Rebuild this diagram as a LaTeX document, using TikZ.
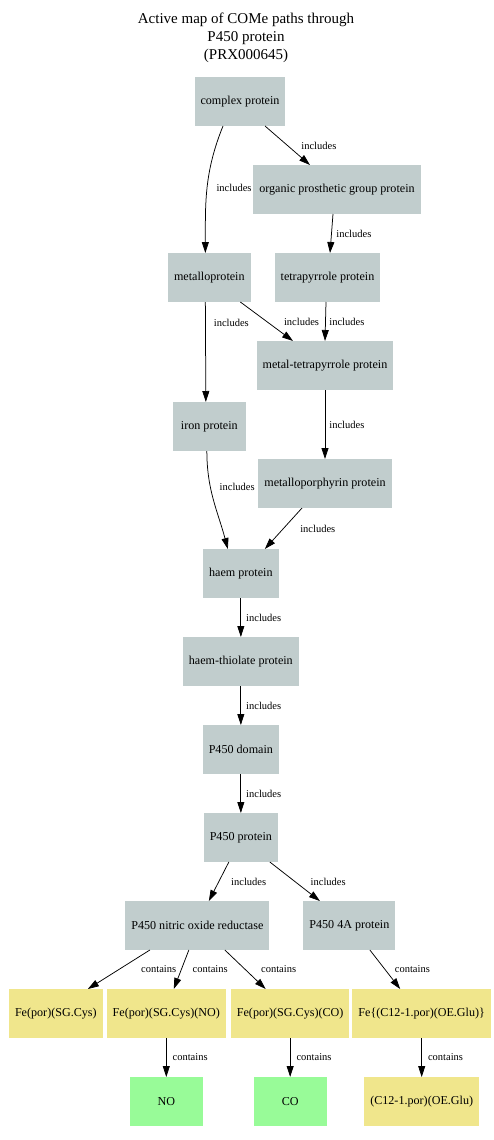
\documentclass[tikz,border=0pt]{standalone}
\usepackage{fontspec}
\setmainfont{Liberation Serif}
\usetikzlibrary{arrows.meta,positioning}
\definecolor{protgrey}{HTML}{C1CDCD}
\definecolor{khaki}{HTML}{F0E68C}
\definecolor{palegreen}{HTML}{98FB98}

\begin{document}
\begin{tikzpicture}[
  >={Triangle[length=11pt,width=7pt]},
  box/.style={fill=protgrey, align=center, minimum width=73pt, minimum height=49pt, inner xsep=6pt, outer sep=0pt, font=\fontsize{12.1}{14}\selectfont},
  cpd/.style={box, fill=khaki},
  gas/.style={box, fill=palegreen},
  lbl/.style={font=\fontsize{10.5}{12}\selectfont, inner sep=0pt, anchor=west, midway},
  line width=0.75pt]

\useasboundingbox (0,0) rectangle (494pt,-1140pt);

\node[align=center, font=\fontsize{15}{18}\selectfont] (title) at (246pt,-37.5pt) {Active map of COMe paths through\\P450 protein\\(PRX000645)};

\node[box] (complexP) at (240pt,-101.5pt) {complex protein};
\node[box, below=39pt of complexP, xshift=97pt] (organicP) {organic prosthetic group protein};
\node[box, below=39pt of organicP, xshift=-9.5pt] (tetraP) {tetrapyrrole protein};
\node[box, left=24pt of tetraP] (metalloP) {metalloprotein};
\node[box, below=39pt of tetraP, xshift=-2.5pt] (metalTP) {metal-tetrapyrrole protein};
\node[box, below=100pt of metalloP] (ironP) {iron protein};
\node[box, below=69pt of metalTP] (porphP) {metalloporphyrin protein};
\node[box, below=98pt of ironP, xshift=31.5pt] (haemP) {haem protein};
\node[box, below=39pt of haemP] (thiolP) {haem-thiolate protein};
\node[box, below=39pt of thiolP] (domP) {P450 domain};
\node[box, below=39pt of domP] (p450P) {P450 protein};
\node[box, below=39pt of p450P, xshift=-43.5pt] (norP) {P450 nitric oxide reductase};
\node[box, right=34pt of norP] (p4aP) {P450 4A protein};

% composes du fer et ligands
\node[cpd, below=39pt of norP, xshift=-141.5pt] (feSG) {Fe(por)(SG.Cys)};
\node[cpd, right=4pt of feSG] (feNO) {Fe(por)(SG.Cys)(NO)};
\node[cpd, right=5pt of feNO] (feCO) {Fe(por)(SG.Cys)(CO)};
\node[cpd, right=3pt of feCO] (feC12) {Fe\{(C12-1.por)(OE.Glu)\}};
\node[gas, below=39pt of feNO] (no) {NO};
\node[gas, below=39pt of feCO] (co) {CO};
\node[cpd, below=39pt of feC12] (c12) {(C12-1.por)(OE.Glu)};

\draw[->] ([xshift=-17pt]complexP.south) to[out=-112, in=90] node[lbl, xshift=9pt]{includes} ([xshift=-4pt]metalloP.north);
\draw[->] ([xshift=25pt]complexP.south) -- node[lbl, xshift=13.5pt]{includes} ([xshift=-27pt]organicP.north);
\draw[->] ([xshift=-4pt]organicP.south) -- node[lbl, xshift=4.5pt]{includes} ([xshift=2.5pt]tetraP.north);
\draw[->] ([xshift=-4pt]metalloP.south) -- node[lbl, pos=0.21, xshift=8pt]{includes} ([xshift=-3.5pt]ironP.north);
\draw[->] ([xshift=31pt]metalloP.south) -- node[lbl, xshift=17pt]{includes} ([xshift=-32pt]metalTP.north);
\draw[->] ([xshift=-1.5pt]tetraP.south) -- node[lbl, xshift=3.5pt]{includes} (metalTP.north);
\draw[->] (metalTP) -- node[lbl, xshift=4pt]{includes} (porphP);
\draw[->] ([xshift=-2.5pt]ironP.south) to[out=-90, in=105] node[lbl, pos=0.35, xshift=9pt]{includes} ([xshift=-13pt]haemP.north);
\draw[->] ([xshift=-23pt]porphP.south) -- node[lbl, xshift=16.5pt]{includes} ([xshift=24pt]haemP.north);
\draw[->] (haemP) -- node[lbl, xshift=5pt]{includes} (thiolP);
\draw[->] (thiolP) -- node[lbl, xshift=5pt]{includes} (domP);
\draw[->] (domP) -- node[lbl, xshift=5pt]{includes} (p450P);
\draw[->] ([xshift=-12pt]p450P.south) -- node[lbl, xshift=12pt]{includes} ([xshift=11.5pt]norP.north);
\draw[->] ([xshift=29pt]p450P.south) -- node[lbl, xshift=15.5pt]{includes} ([xshift=-29.5pt]p4aP.north);

\draw[->] ([xshift=-47.5pt]norP.south) -- node[lbl, xshift=22pt]{contains} ([xshift=32pt]feSG.north);
\draw[->] ([xshift=-8.5pt]norP.south) -- node[lbl, xshift=11pt]{contains} ([xshift=7.5pt]feNO.north);
\draw[->] ([xshift=27.5pt]norP.south) -- node[lbl, xshift=15.5pt]{contains} ([xshift=-24.5pt]feCO.north);
\draw[->] ([xshift=20.5pt]p4aP.south) -- node[lbl, xshift=9.5pt]{contains} ([xshift=-21.5pt]feC12.north);
\draw[->] (feNO) -- node[lbl, xshift=6pt]{contains} (no);
\draw[->] (feCO) -- node[lbl, xshift=6pt]{contains} (co);
\draw[->] (feC12) -- node[lbl, xshift=6pt]{contains} (c12);

\end{tikzpicture}
\end{document}
